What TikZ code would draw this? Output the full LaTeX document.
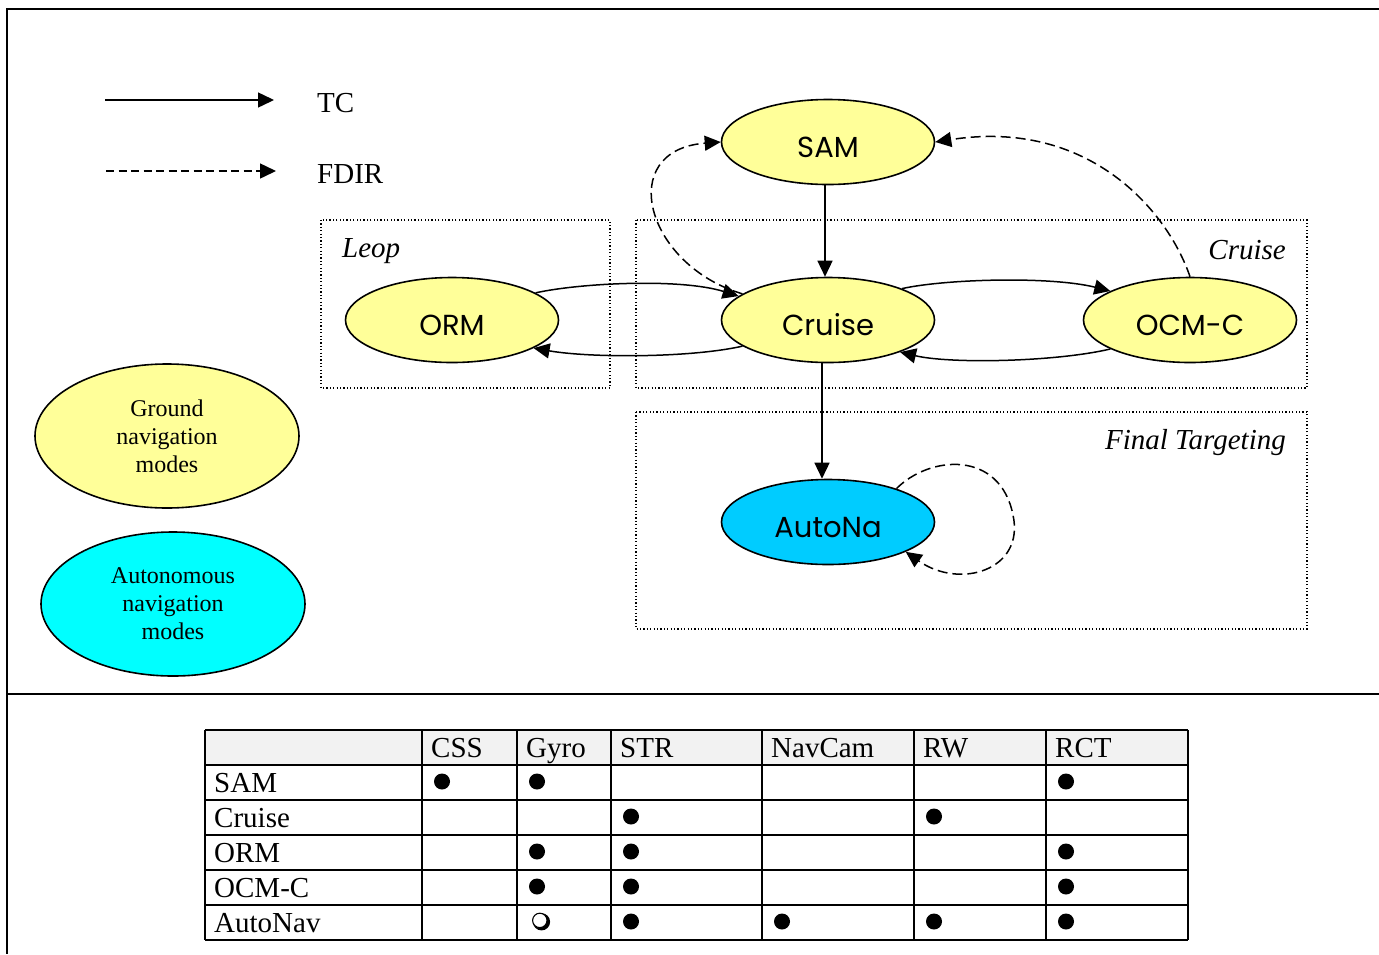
\documentclass[tikz,border=0pt]{standalone}
\usepackage{fontspec}
\setmainfont{Liberation Serif}
\newfontfamily\modefont{Poppins}
\usetikzlibrary{shapes.geometric,arrows.meta}

\definecolor{groundfill}{HTML}{FFFF99}
\definecolor{autonafill}{HTML}{00CCFF}
\definecolor{autokeyfill}{HTML}{00FFFF}
\definecolor{headgray}{HTML}{F2F2F2}

\begin{document}
\begin{tikzpicture}[x=1pt,y=-1pt,
  frame/.style={line width=2.2pt},
  mode/.style={ellipse,draw,line width=1.6pt,minimum width=213pt,minimum height=85pt,
    inner sep=0pt,font=\modefont\fontsize{29}{33}\selectfont,text height=30pt,text depth=0pt},
  keymode/.style={ellipse,draw,line width=1.6pt,minimum width=264pt,minimum height=144pt,
    inner sep=0pt,align=center,font=\fontsize{24}{28}\selectfont},
  tc/.style={-{Triangle[length=16pt,width=15pt]},line width=1.5pt},
  fdir/.style={tc,dash pattern=on 10pt off 5pt},
  keyfdir/.style={tc,dash pattern=on 8pt off 4.5pt},
  zone/.style={draw,line width=1.3pt,dash pattern=on 1.2pt off 2.2pt},
  zonelabel/.style={font=\itshape\fontsize{29}{33}\selectfont,inner sep=0pt},
  plain/.style={font=\fontsize{29}{33}\selectfont,inner sep=0pt},
  cell/.style={plain,anchor=base west},
  grid/.style={line width=1.8pt},
]
\useasboundingbox (0,0) rectangle (1379,954);

% outer frame and divider
\draw[frame] (1379,9) -- (7,9) -- (7,954);
\draw[frame] (7,694) -- (1379,694);

% legend of connectors
\coordinate (tcA) at (105,100);
\coordinate (tcB) at (274,100);
\coordinate (fdA) at (106,171);
\coordinate (fdB) at (276,171);
\draw[tc] (tcA) -- (tcB);
\draw[keyfdir] (fdA) -- (fdB);
\node[plain,anchor=west] (tclbl) at (317,103) {TC};
\node[plain,anchor=west] (fdlbl) at (317,174) {FDIR};

% legend of mode families
\node[keymode,fill=groundfill] (keyground) at (167,436) {Ground\\navigation\\modes};
\node[keymode,fill=autokeyfill] (keyauto) at (173,604) {Autonomous\\navigation\\modes};

% mission phases
\draw[zone] (321,220) rectangle (610,388);
\draw[zone] (636,220) rectangle (1307,388);
\draw[zone] (636,412) rectangle (1307,629);
\node[zonelabel,anchor=west] (leoplbl) at (342,251) {Leop};
\node[zonelabel,anchor=east] (cruiselbl) at (1286,250) {Cruise};
\node[zonelabel,anchor=east] (ftlbl) at (1286,443) {Final Targeting};

% modes
\node[mode,fill=groundfill] (sam) at (828,142) {SAM};
\node[mode,fill=groundfill] (cruise) at (828,320) {Cruise};
\node[mode,fill=groundfill] (orm) at (452,320) {ORM};
\node[mode,fill=groundfill] (ocmc) at (1190,320) {OCM-C};
\node[mode,fill=autonafill] (autona) at (828,522) {AutoNa};

% telecommanded transitions
\draw[tc] ([xshift=-3pt]sam.south) -- ([xshift=-3pt]cruise.north);
\draw[tc] ([xshift=-6pt]cruise.south) -- ([xshift=-6pt]autona.north);
\draw[tc] (orm.18) .. controls (580,283) and (680,278) .. (cruise.165);
\draw[tc] (cruise.197) .. controls (690,358) and (590,358) .. (orm.-19);
\draw[tc] (cruise.23) .. controls (945,279) and (1050,276) .. (ocmc.160);
\draw[tc] (ocmc.200) .. controls (1055,362) and (950,364) .. (cruise.-24);

% FDIR transitions
\coordinate (loopturn) at (1013,515);
\draw[fdir] (cruise.163) .. controls (645,265) and (615,150) .. (sam.west);
\draw[fdir] (ocmc.north) .. controls (1168,212) and (1090,118) .. (sam.east);
\draw[fdir] (autona.26) .. controls (930,455) and (1000,450) .. (loopturn)
  .. controls (1025,570) and (960,590) .. (autona.-21);

% sensor / actuator usage table
\fill[headgray] (205,730) rectangle (1188,765);
\foreach \x in {205,422,517,611,762,914,1046,1188}
  \draw[grid] (\x,730) -- (\x,940);
\foreach \y in {730,765,800,835,870,905,940}
  \draw[grid] (205,\y) -- (1188,\y);

\foreach \x/\t in {422/CSS,517/Gyro,611/STR,762/NavCam,914/RW,1046/RCT}
  \node[cell] (head-\t) at (\x+9,757.5) {\t};
\foreach \y/\t in {765/SAM,800/Cruise,835/ORM,870/OCM-C,905/AutoNav}
  \node[cell] (row-\t) at (214,\y+27.5) {\t};

\foreach \x/\y in {422/765,517/765,1046/765,
                   611/800,914/800,
                   517/835,611/835,1046/835,
                   517/870,611/870,1046/870,
                   611/905,762/905,914/905,1046/905}
  \fill (\x+20,\y+16.5) circle (8pt);

% shadowed open circle
\fill (541.5,921.8) circle (8.6pt);
\filldraw[fill=white,draw=black,line width=1.1pt] (539.8,920.4) circle (7.2pt);
\end{tikzpicture}
\end{document}
